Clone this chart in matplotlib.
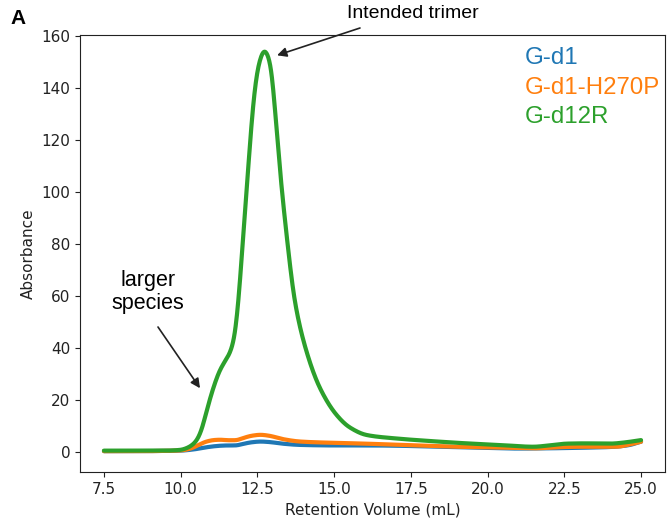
import numpy as np
import matplotlib
matplotlib.use("Agg")
import matplotlib.pyplot as plt

# Retention volume (mL) sample points
vol_green = [7.5, 8.5, 9.5, 10.0, 10.2, 10.41, 10.55, 10.68, 10.84, 11.06, 11.28, 11.45, 11.6,
             11.75, 11.88, 12.04, 12.2, 12.37, 12.53, 12.73, 12.93, 13.05, 13.23, 13.45, 13.72,
             14.1, 14.54, 15.08, 15.5, 16.06, 17.0, 18.0, 19.32, 20.5, 21.49, 22.0, 22.58,
             23.2, 23.99, 24.5, 25.0]
abs_green = [0.5, 0.5, 0.5, 0.8, 1.5, 3.0, 5.0, 8.5, 15.5, 24.5, 31.5, 35.0, 38.0,
             44.0, 57.8, 83.5, 109.0, 134.7, 148.5, 154.5, 149.0, 135.0, 109.0, 83.5, 57.8,
             38.6, 24.5, 14.2, 9.5, 6.5, 5.2, 4.3, 3.3, 2.6, 2.0, 2.5, 3.2,
             3.3, 3.2, 3.7, 4.6]

vol_orange = [7.5, 8.5, 9.5, 10.0, 10.3, 10.5, 10.84, 11.1, 11.3, 11.55, 11.8, 12.0, 12.3, 12.6,
              12.9, 13.3, 13.89, 15.0, 16.0, 17.15, 18.0, 19.0, 20.0, 21.0, 21.5, 22.0, 22.5,
              23.0, 23.5, 24.2, 24.6, 25.0]
abs_orange = [0.3, 0.3, 0.4, 0.6, 1.2, 2.2, 4.0, 4.6, 4.7, 4.5, 4.5, 5.2, 6.2, 6.6,
              6.2, 5.0, 4.0, 3.5, 3.2, 2.7, 2.4, 2.0, 1.8, 1.5, 1.4, 1.6, 1.9,
              2.0, 2.0, 2.0, 2.8, 4.0]

vol_blue = [7.5, 8.5, 9.5, 10.0, 10.3, 10.5, 10.84, 11.1, 11.3, 11.55, 11.8, 12.0, 12.3, 12.6,
            12.9, 13.3, 13.89, 15.0, 16.0, 17.0, 18.0, 19.0, 20.0, 21.0, 22.0, 23.0, 24.0,
            24.6, 25.0]
abs_blue = [0.3, 0.3, 0.4, 0.5, 0.8, 1.1, 1.8, 2.2, 2.4, 2.5, 2.5, 3.0, 3.7, 4.0,
            3.8, 3.2, 2.7, 2.5, 2.5, 2.4, 2.1, 1.8, 1.5, 1.3, 1.4, 1.6, 1.9,
            2.6, 4.0]

series_names = ["G-d1", "G-d1-H270P", "G-d12R"]
colors = ["#1f77b4", "#ff7f0e", "#2ca02c"]

x_ticks = [7.5, 10.0, 12.5, 15.0, 17.5, 20.0, 22.5, 25.0]
y_ticks = [0, 20, 40, 60, 80, 100, 120, 140, 160]


def smooth(xs, ys, n=1200, sigma=0.06):
    xs = np.asarray(xs, float)
    ys = np.asarray(ys, float)
    # monotone cubic (PCHIP) interpolation, then a light gaussian blur for a smooth trace
    h = np.diff(xs)
    d = np.diff(ys) / h
    m = np.zeros_like(ys)
    for k in range(1, len(xs) - 1):
        if d[k - 1] * d[k] > 0:
            w1 = 2 * h[k] + h[k - 1]
            w2 = h[k] + 2 * h[k - 1]
            m[k] = (w1 + w2) / (w1 / d[k - 1] + w2 / d[k])
    m[0] = d[0]
    m[-1] = d[-1]
    xx = np.linspace(xs[0], xs[-1], n)
    idx = np.clip(np.searchsorted(xs, xx) - 1, 0, len(xs) - 2)
    t = (xx - xs[idx]) / h[idx]
    h00 = 2 * t**3 - 3 * t**2 + 1
    h10 = t**3 - 2 * t**2 + t
    h01 = -2 * t**3 + 3 * t**2
    h11 = t**3 - t**2
    yy = h00 * ys[idx] + h10 * h[idx] * m[idx] + h01 * ys[idx + 1] + h11 * h[idx] * m[idx + 1]
    dx = xx[1] - xx[0]
    r = int(4 * sigma / dx)
    kern = np.exp(-0.5 * (np.arange(-r, r + 1) * dx / sigma) ** 2)
    kern /= kern.sum()
    padded = np.concatenate([np.full(r, yy[0]), yy, np.full(r, yy[-1])])
    yy = np.convolve(padded, kern, mode='valid')
    return xx, yy


fig = plt.figure(figsize=(6.69, 5.29), dpi=100)
ax = fig.add_axes([0.1196, 0.1078, 0.8744, 0.8260])

for (xs, ys), c in zip([(vol_blue, abs_blue), (vol_orange, abs_orange), (vol_green, abs_green)], colors):
    xx, yy = smooth(xs, ys)
    ax.plot(xx, yy, color=c, lw=3.0, solid_capstyle='round')

ax.set_xlim(6.72, 25.78)
ax.set_ylim(-7.7, 160.3)
ax.set_xticks(x_ticks)
ax.set_xticklabels([f"{v:.1f}" for v in x_ticks])
ax.set_yticks(y_ticks)
ax.tick_params(labelsize=11, colors='#222222')
for s in ax.spines.values():
    s.set_color('#222222')
ax.set_xlabel("Retention Volume (mL)", fontsize=11, color='#222222')
ax.set_ylabel("Absorbance", fontsize=11, color='#222222')

sans = ['Liberation Sans', 'DejaVu Sans']
for i, (name, c) in enumerate(zip(series_names, colors)):
    fig.text(525 / 669, 1 - (58 + 29.5 * i) / 529, name, color=c, fontsize=17.3,
             family=sans, ha='left', va='center')

fig.text(10 / 669, 1 - 19 / 529, "A", fontsize=15, fontweight='bold', family=sans,
         ha='left', va='center')

fig.text(413 / 669, 1 - 14 / 529, "Intended trimer", fontsize=14, family=sans,
         ha='center', va='center')
ax.annotate("", xy=(13.14, 152.5), xycoords='data',
            xytext=(360 / 669, 1 - 28 / 529), textcoords='figure fraction',
            arrowprops=dict(arrowstyle='-|>', color='#222222', lw=1.2,
                            shrinkA=0, shrinkB=0, mutation_scale=14))

fig.text(148 / 669, 1 - 292 / 529, "larger\nspecies", fontsize=15.5, family=sans,
         ha='center', va='center', linespacing=1.1)
ax.annotate("", xy=(10.63, 24.5), xycoords='data',
            xytext=(158 / 669, 1 - 327 / 529), textcoords='figure fraction',
            arrowprops=dict(arrowstyle='-|>', color='#222222', lw=1.2,
                            shrinkA=0, shrinkB=0, mutation_scale=14))

fig.savefig("out.png", dpi=100)
